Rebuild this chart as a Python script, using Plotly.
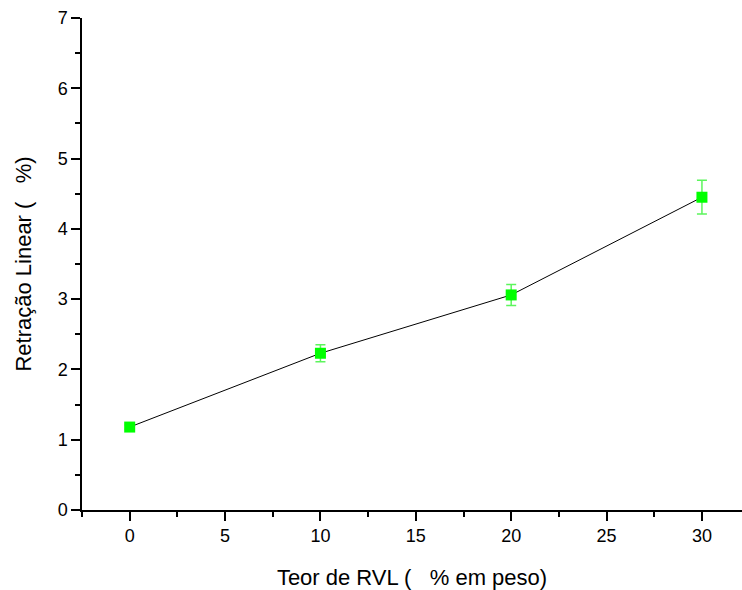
import plotly.graph_objects as go

teor = [0, 10, 20, 30]
retracao = [1.18, 2.23, 3.06, 4.45]
erro = [0.03, 0.12, 0.15, 0.24]

fig = go.Figure()
fig.add_trace(go.Scatter(
    x=teor, y=retracao, mode="lines",
    line=dict(color="black", width=1), showlegend=False, hoverinfo="skip"))
fig.add_trace(go.Scatter(
    x=teor, y=retracao, mode="markers",
    marker=dict(symbol="square", size=11, color="#00ff00", line=dict(width=0)),
    error_y=dict(type="data", array=erro, visible=True, color="#5cf55c", thickness=1.5, width=5),
    showlegend=False))

axis_common = dict(
    showgrid=False, zeroline=False, showline=True, linecolor="black", linewidth=1.5,
    ticks="outside", ticklen=9, tickwidth=1.5, tickcolor="black", automargin=False,
    tickfont=dict(family="Liberation Sans, Arial", size=18, color="black"),
)

fig.update_layout(
    width=742, height=590, autosize=False,
    margin=dict(l=82, r=0, t=18, b=80),
    paper_bgcolor="white", plot_bgcolor="white",
    font=dict(family="Liberation Sans, Arial", color="black"),
    xaxis=dict(range=[-2.5, 32.1], tickmode="array", tickvals=[0, 5, 10, 15, 20, 25, 30],
               minor=dict(ticks="outside", ticklen=5, tickwidth=1.5, tickcolor="black",
                          tickvals=[-2.5, 2.5, 7.5, 12.5, 17.5, 22.5, 27.5]),
               title=dict(text="Teor de RVL (   % em peso)", font=dict(size=22), standoff=30),
               **axis_common),
    yaxis=dict(range=[0, 7], tickmode="array", tickvals=[0, 1, 2, 3, 4, 5, 6, 7],
               minor=dict(ticks="outside", ticklen=5, tickwidth=1.5, tickcolor="black",
                          tickvals=[0.5, 1.5, 2.5, 3.5, 4.5, 5.5, 6.5]),
               title=dict(text="Retração Linear (   %)", font=dict(size=22), standoff=20),
               **axis_common),
)

fig.write_html("out.html", config={"displayModeBar": False},
               post_script="document.body.style.margin='0';")
